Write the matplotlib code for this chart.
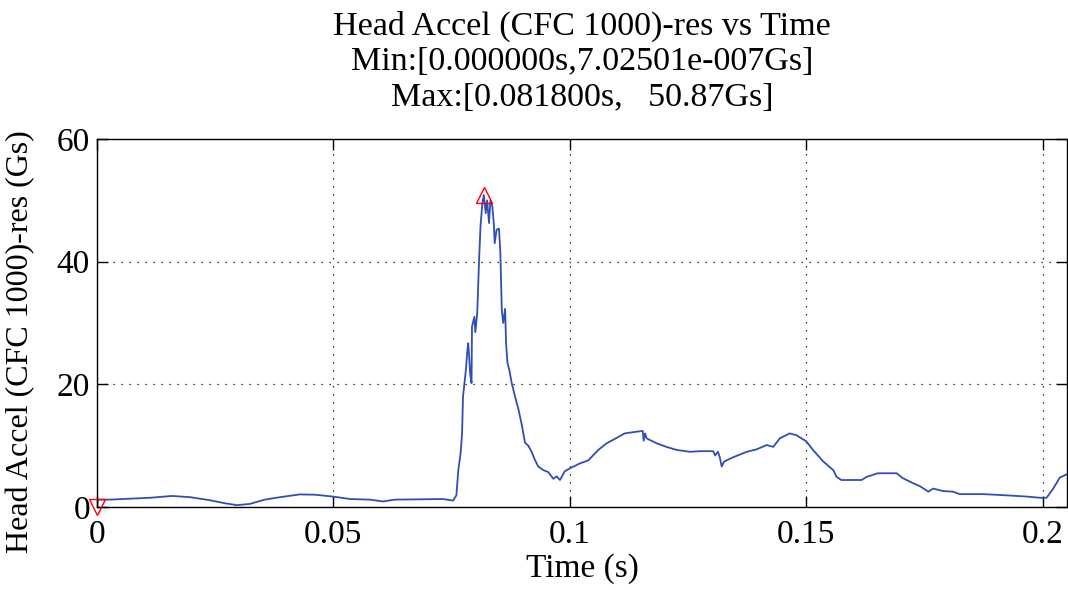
import matplotlib
matplotlib.use("Agg")
import matplotlib.pyplot as plt

# Resultant head acceleration trace (time in s, acceleration in Gs)
time_s = [
    0.0, 0.0002, 0.0027, 0.0070, 0.0112, 0.0159, 0.0197, 0.0239, 0.0271, 0.0296,
    0.0323, 0.0355, 0.0387, 0.0429, 0.0461, 0.0499, 0.0535, 0.0577, 0.0605, 0.0630,
    0.0683, 0.0731, 0.0753, 0.0760, 0.0764, 0.0769, 0.0772, 0.0774, 0.0780, 0.0783,
    0.0785, 0.0787, 0.0789, 0.0792, 0.0793, 0.0798, 0.0800, 0.0804, 0.0808, 0.0811,
    0.0815, 0.0818, 0.0822, 0.0825, 0.0829, 0.0832, 0.0836, 0.0839, 0.0841, 0.0845,
    0.0850, 0.0853, 0.0856, 0.0859, 0.0863, 0.0865, 0.0868, 0.0872, 0.0877, 0.0884,
    0.0891, 0.0898, 0.0905, 0.0912, 0.0919, 0.0926, 0.0933, 0.0944, 0.0954, 0.0965,
    0.0972, 0.0979, 0.0989, 0.1000, 0.1021, 0.1039, 0.1060, 0.1078, 0.1095, 0.1116,
    0.1134, 0.1154, 0.1156, 0.1159, 0.1162, 0.1183, 0.1204, 0.1226, 0.1254, 0.1275,
    0.1303, 0.1307, 0.1313, 0.1317, 0.1321, 0.1326, 0.1345, 0.1374, 0.1395, 0.1416,
    0.1430, 0.1444, 0.1465, 0.1479, 0.1500, 0.1514, 0.1536, 0.1557, 0.1564, 0.1574,
    0.1617, 0.1627, 0.1651, 0.1691, 0.1704, 0.1725, 0.1740, 0.1758, 0.1768, 0.1789,
    0.1810, 0.1824, 0.1874, 0.1923, 0.1966, 0.1994, 0.2008, 0.2022, 0.2036, 0.2050,
]
accel_gs = [
    7.02501e-7, 1.2, 1.2, 1.35, 1.5, 1.8, 1.6, 1.1, 0.6, 0.3,
    0.5, 1.2, 1.6, 2.05, 2.0, 1.7, 1.3, 1.2, 0.9, 1.2,
    1.25, 1.3, 1.05, 1.9, 6.0, 8.8, 12.0, 18.0, 22.3, 25.3,
    26.7, 24.5, 21.8, 20.2, 29.4, 31.0, 28.5, 31.6, 40.3, 45.8,
    49.6, 50.87, 47.9, 50.0, 46.3, 50.0, 49.0, 46.3, 43.0, 45.2,
    45.4, 41.4, 32.1, 30.0, 32.3, 26.7, 23.5, 22.3, 20.2, 18.0,
    16.0, 13.5, 10.5, 10.0, 9.0, 7.7, 6.6, 6.0, 5.7, 4.6,
    5.0, 4.4, 5.8, 6.3, 7.1, 7.6, 9.3, 10.4, 11.1, 12.0,
    12.2, 12.4, 10.8, 12.0, 11.2, 10.4, 9.8, 9.3, 9.0, 9.1,
    9.1, 8.4, 9.0, 8.1, 6.6, 7.4, 8.1, 9.0, 9.4, 10.1,
    9.8, 11.2, 12.0, 11.7, 10.7, 9.3, 7.4, 6.0, 4.9, 4.4,
    4.4, 4.9, 5.5, 5.5, 4.7, 3.9, 3.4, 2.5, 3.0, 2.6,
    2.5, 2.1, 2.1, 1.9, 1.7, 1.5, 1.5, 3.0, 4.8, 5.3,
]

x_ticks = [0, 0.05, 0.1, 0.15, 0.2]
x_tick_labels = ["0", "0.05", "0.1", "0.15", "0.2"]
y_ticks = [0, 20, 40, 60]
y_tick_labels = ["0", "20", "40", "60"]

plt.rcParams["font.family"] = ["Liberation Serif", "DejaVu Serif"]

fig = plt.figure(figsize=(10.68, 5.90), dpi=100)
ax = fig.add_axes([0.0908, 0.1407, 0.9082, 0.6237])

ax.plot(time_s, accel_gs, color="#2f4fb5", linewidth=1.3)

# Extremes of the trace
i_max = accel_gs.index(max(accel_gs))
i_min = accel_gs.index(min(accel_gs))
ax.plot(time_s[i_max], accel_gs[i_max], marker="^", markersize=12,
        markerfacecolor="none", markeredgecolor="red", markeredgewidth=1.0,
        clip_on=False, zorder=5)
ax.plot(time_s[i_min], accel_gs[i_min], marker="v", markersize=12,
        markerfacecolor="none", markeredgecolor="red", markeredgewidth=1.0,
        clip_on=False, zorder=5)

ax.set_xlim(0, 0.2051)
ax.set_ylim(0, 60)
ax.set_xticks(x_ticks)
ax.set_xticklabels(x_tick_labels)
ax.set_yticks(y_ticks)
ax.set_yticklabels(y_tick_labels)

ax.grid(True, color="black", linestyle=(0, (1, 5.4)), linewidth=0.9)
ax.tick_params(direction="in", length=8, width=1.0, top=True, right=True,
               labelsize=24)
ax.tick_params(axis="x", pad=9)
ax.tick_params(axis="y", pad=5)
for s in ax.spines.values():
    s.set_linewidth(1.0)

ax.set_xlabel("Time (s)", fontsize=24, labelpad=2)
ax.set_ylabel("Head Accel (CFC 1000)-res (Gs)", fontsize=23)
ax.yaxis.set_label_coords(-0.064, 0.45)
ax.set_title("Head Accel (CFC 1000)-res vs Time\n"
             "Min:[0.000000s,7.02501e-007Gs]\n"
             "Max:[0.081800s,   50.87Gs]",
             fontsize=24.5, linespacing=1.2, pad=24)

fig.savefig("out.png", dpi=100)
